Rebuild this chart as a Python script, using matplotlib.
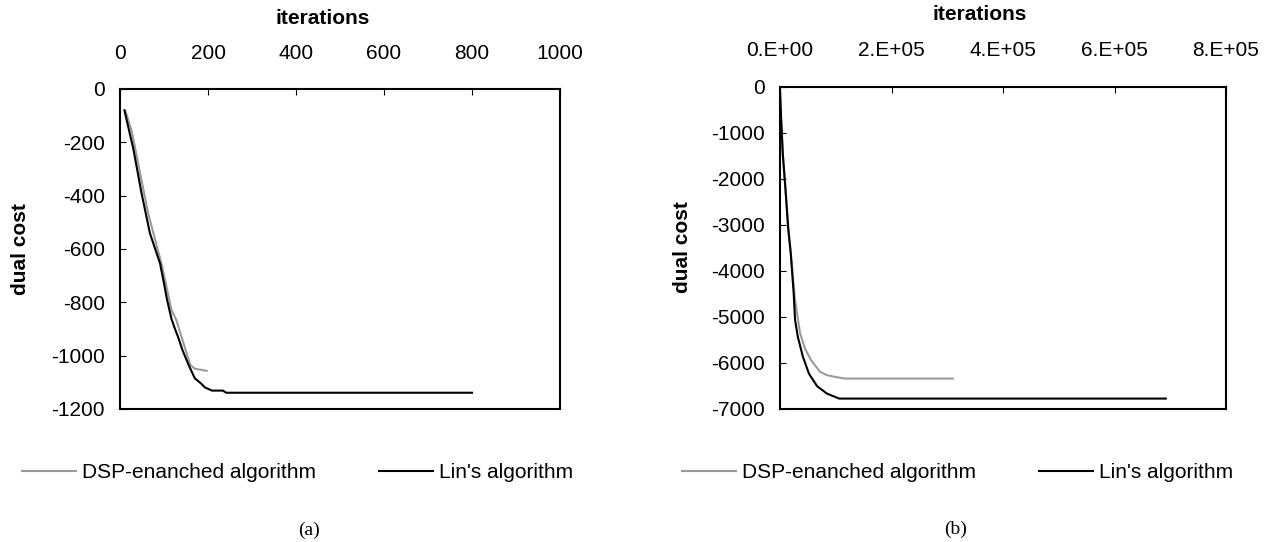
import matplotlib
matplotlib.use("Agg")
import matplotlib.pyplot as plt

plt.rcParams['font.family'] = ['Liberation Sans', 'DejaVu Sans']
plt.rcParams['axes.unicode_minus'] = False

# ---------------- data: panel (a) ----------------
a_dsp_x = [12, 27, 45, 64, 76, 95, 117, 128, 142, 160, 170, 197]
a_dsp_y = [-80, -160, -310, -466, -541, -660, -829, -866, -941, -1035, -1049, -1057]
a_lin_x = [10, 30, 49, 68, 91, 100, 107, 117, 125, 132, 142, 156, 170, 184, 193, 209, 234, 241, 800]
a_lin_y = [-80, -222, -391, -541, -654, -729, -791, -862, -900, -930, -979, -1035, -1085, -1104,
           -1119, -1131, -1131, -1139, -1139]
a_xticks = [0, 200, 400, 600, 800, 1000]
a_yticks = [0, -200, -400, -600, -800, -1000, -1200]

# ---------------- data: panel (b) ----------------
b_dsp_x = [0, 2000, 5000, 10000, 15000, 20000, 27000, 36000, 45000, 56000, 72000, 84000,
           95000, 116000, 310000]
b_dsp_y = [-100, -700, -1460, -2260, -3060, -3700, -4640, -5360, -5700, -5950, -6200, -6270,
           -6300, -6345, -6345]
b_lin_x = [0, 2000, 5000, 10000, 14500, 19400, 24600, 27000, 32000, 41000, 52000, 66500,
           84000, 106000, 692000]
b_lin_y = [-100, -700, -1460, -2260, -3060, -3640, -4510, -5070, -5440, -5870, -6240, -6510,
           -6670, -6780, -6780]
b_xticks = [0, 200000, 400000, 600000, 800000]
b_xticklabels = ['0.E+00', '2.E+05', '4.E+05', '6.E+05', '8.E+05']
b_yticks = [0, -1000, -2000, -3000, -4000, -5000, -6000, -7000]

series_names = ['DSP-enanched algorithm', "Lin's algorithm"]
gray = '#9a9a9a'
black = '#000000'

W, H = 1270, 542
fig = plt.figure(figsize=(W / 100, H / 100), dpi=100)


def fx(px):
    return px / W


def fy(py):
    return 1 - py / H


def style_axes(ax, xticks, xlabels, yticks, ylabels, xlim, ylim):
    ax.set_xlim(*xlim)
    ax.set_ylim(*ylim)
    ax.xaxis.tick_top()
    ax.set_xticks(xticks)
    ax.set_xticklabels(xlabels)
    ax.set_yticks(yticks)
    ax.set_yticklabels(ylabels)
    ax.tick_params(axis='x', direction='in', length=4, width=0.8, pad=19, labelsize=15,
                   top=True, bottom=False)
    ax.tick_params(axis='y', direction='in', length=4, width=0.8, pad=11, labelsize=15,
                   left=True, right=False)
    for s in ax.spines.values():
        s.set_linewidth(1.5)
        s.set_color('black')


# ---------- panel (a) ----------
ax1 = fig.add_axes([fx(120), fy(409), fx(560) - fx(120), fy(89) - fy(409)])
l1, = ax1.plot(a_dsp_x, a_dsp_y, color=gray, lw=1.5, label=series_names[0])
l2, = ax1.plot(a_lin_x, a_lin_y, color=black, lw=1.5, label=series_names[1])
style_axes(ax1, a_xticks, [str(v) for v in a_xticks], a_yticks, [str(v) for v in a_yticks],
           (0, 1000), (-1200, 0))
fig.text(fx(323), fy(18), 'iterations', ha='center', va='center', fontsize=15, fontweight='bold')
fig.text(fx(21), fy(249), 'dual cost', ha='center', va='center', rotation=90, fontsize=15,
         fontweight='bold')
ax1.legend(handles=[l1, l2], ncol=2, loc='center left', bbox_to_anchor=(fx(22), fy(473)),
           bbox_transform=fig.transFigure, frameon=False, fontsize=15, handlelength=2.6,
           handletextpad=0.3, columnspacing=3.0, borderpad=0, borderaxespad=0)
fig.text(fx(309), fy(530), '(a)', ha='center', va='center', fontsize=14,
         family=['Liberation Serif', 'DejaVu Serif'])

# ---------- panel (b) ----------
ax2 = fig.add_axes([fx(780), fy(408.7), fx(1226) - fx(780), fy(86.5) - fy(408.7)])
m1, = ax2.plot(b_dsp_x, b_dsp_y, color=gray, lw=1.5, label=series_names[0])
m2, = ax2.plot(b_lin_x, b_lin_y, color=black, lw=1.5, label=series_names[1])
style_axes(ax2, b_xticks, b_xticklabels, b_yticks, [str(v) for v in b_yticks],
           (0, 800000), (-7000, 0))
fig.text(fx(980), fy(15), 'iterations', ha='center', va='center', fontsize=15, fontweight='bold')
fig.text(fx(682), fy(247), 'dual cost', ha='center', va='center', rotation=90, fontsize=15,
         fontweight='bold')
ax2.legend(handles=[m1, m2], ncol=2, loc='center left', bbox_to_anchor=(fx(682), fy(473)),
           bbox_transform=fig.transFigure, frameon=False, fontsize=15, handlelength=2.6,
           handletextpad=0.3, columnspacing=3.0, borderpad=0, borderaxespad=0)
fig.text(fx(956), fy(529), '(b)', ha='center', va='center', fontsize=14,
         family=['Liberation Serif', 'DejaVu Serif'])

fig.savefig('out.png', dpi=100, facecolor='white')
